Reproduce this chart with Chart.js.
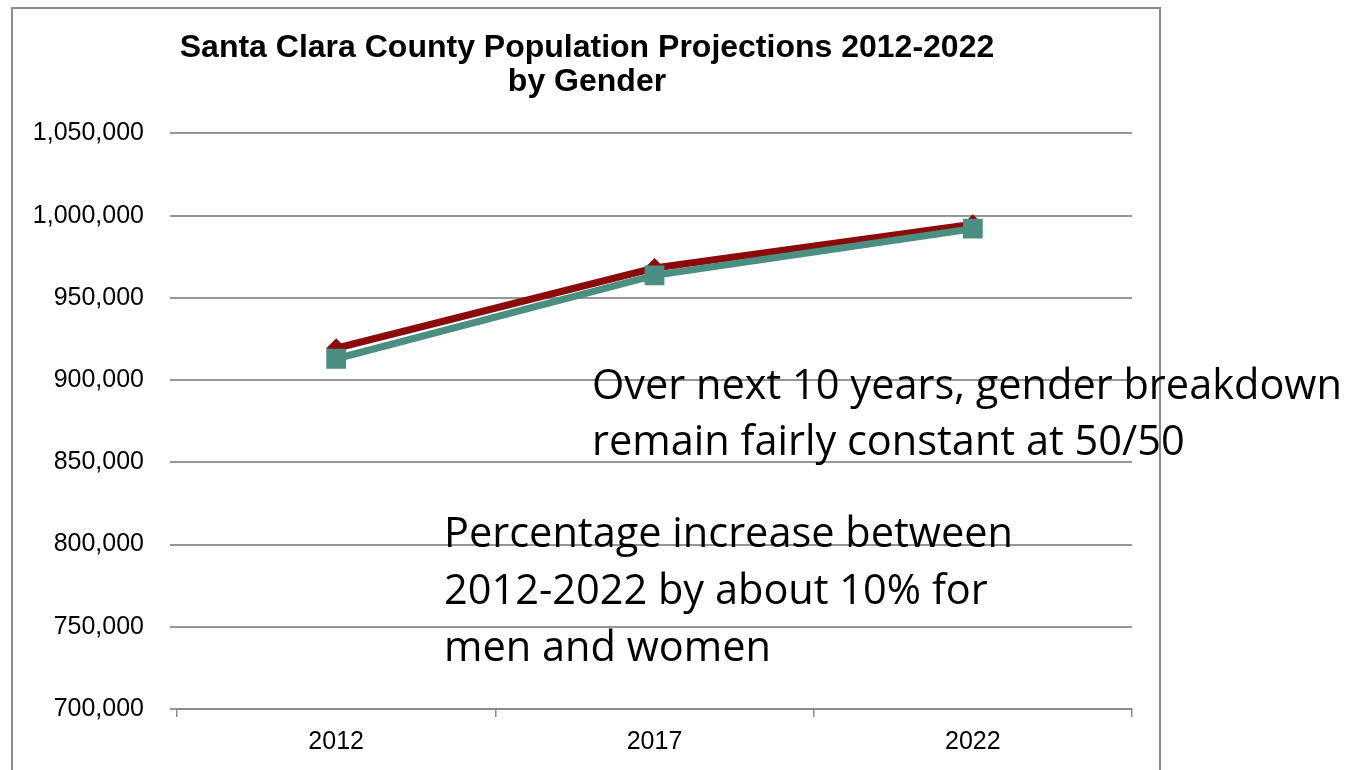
<!DOCTYPE html>
<html lang="en">

<head>
    <meta charset="UTF-8">
    <title>Santa Clara County Population Projections</title>
    <script src="https://cdn.jsdelivr.net/npm/chart.js"></script>
    <style>
        body { margin: 0; background: #fff; width: 1348px; height: 770px; overflow: hidden; position: relative; }
        .moldura { position: absolute; left: 11px; top: 7px; width: 1150px; height: 800px; border: 2px solid #8a8a8a; box-sizing: border-box; }
        .grafico { position: absolute; left: 12px; top: 8px; width: 1150px; height: 762px; }
        .nota { position: absolute; font-family: "Open Sans", sans-serif; font-size: 41.5px; line-height: 56px; color: #000; white-space: nowrap; }
    </style>
</head>

<body>
    <div class="moldura"></div>
    <div class="grafico">
        <canvas id="grafico_populacao" width="1150" height="762"></canvas>
    </div>
    <div class="nota" style="left: 592px; top: 355px;">Over next 10 years, gender breakdown<br>remain fairly constant at 50/50</div>
    <div class="nota" style="left: 444px; top: 503px; line-height: 57px;">Percentage increase between<br>2012-2022 by about 10% for<br>men and women</div>

<script>
    const anos = ['2012', '2017', '2022'];
    const homens = [919400, 968200, 994800];
    const mulheres = [913000, 963700, 992100];
    const eixoMin = 700000;
    const eixoMax = 1050000;
    const passo = 50000;

    const ctx = document.getElementById('grafico_populacao').getContext('2d');
    new Chart(ctx, {
        type: 'line',
        data: {
            labels: anos,
            datasets: [{
                label: 'Mulheres',
                data: mulheres,
                borderColor: '#4a8f81',
                backgroundColor: '#4a8f81',
                borderWidth: 7,
                pointStyle: 'rect',
                pointRadius: 14,
                pointBorderWidth: 0,
                tension: 0
            }, {
                label: 'Homens',
                data: homens,
                borderColor: '#8b0a0a',
                backgroundColor: '#8b0a0a',
                borderWidth: 7,
                pointStyle: 'rectRot',
                pointRadius: 10,
                pointBorderWidth: 0,
                tension: 0
            }]
        },
        options: {
            responsive: false,
            animation: false,
            layout: { padding: 0 },
            plugins: {
                legend: { display: false },
                tooltip: { enabled: false },
                title: {
                    display: true,
                    text: ['Santa Clara County Population Projections 2012-2022', 'by Gender'],
                    color: '#000',
                    font: { family: 'Liberation Sans, Arial, sans-serif', size: 32, weight: 'bold', lineHeight: 1.07 },
                    padding: { top: 23, bottom: 34 }
                }
            },
            scales: {
                x: {
                    offset: true,
                    grid: { display: true, drawOnChartArea: false, offset: true, color: '#8a8a8a', lineWidth: 1.5, tickLength: 8 },
                    border: { display: true, color: '#8a8a8a', width: 2 },
                    ticks: { color: '#000', padding: 10, font: { family: 'Liberation Sans, Arial, sans-serif', size: 25 } },
                    afterFit: function (scale) { scale.height = 61; }
                },
                y: {
                    min: eixoMin,
                    max: eixoMax,
                    grid: { color: '#969696', lineWidth: 2, tickLength: 7 },
                    border: { display: false },
                    ticks: {
                        stepSize: passo,
                        color: '#000',
                        padding: 26,
                        font: { family: 'Liberation Sans, Arial, sans-serif', size: 25 },
                        callback: function (valor) { return valor.toLocaleString('en-US'); }
                    },
                    afterFit: function (scale) { scale.width = 165; }
                },
                // empty right axis, only keeps space at the right of the plot
                direita: {
                    axis: 'y',
                    position: 'right',
                    min: eixoMin,
                    max: eixoMax,
                    grid: { drawOnChartArea: false, drawTicks: false },
                    border: { display: false },
                    ticks: { display: false },
                    afterFit: function (scale) { scale.width = 30; }
                }
            }
        }
    });
</script>
</body>

</html>
